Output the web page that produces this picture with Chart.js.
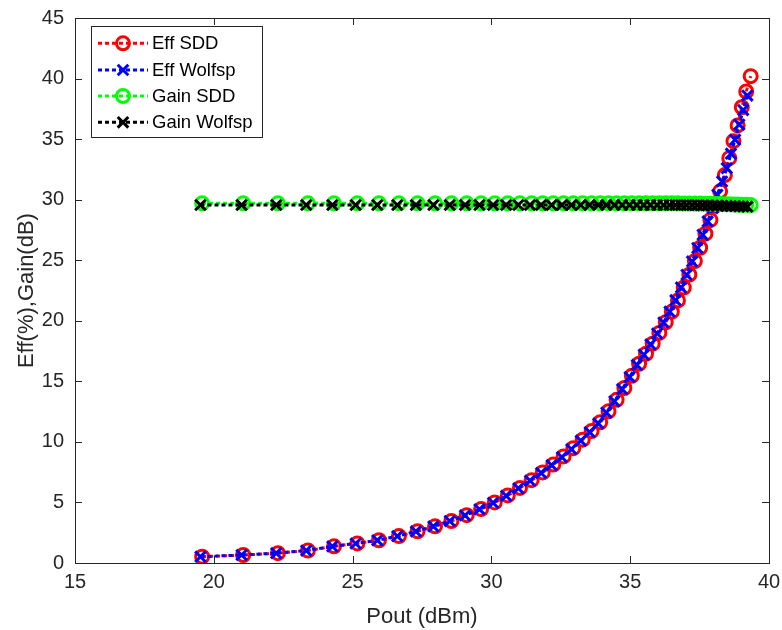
<!DOCTYPE html>
<html>
<head>
<meta charset="utf-8">
<script src="https://cdn.jsdelivr.net/npm/chart.js@4.4.1/dist/chart.umd.min.js"></script>
<style>
  body { margin: 0; background: #fff; }
  #wrap { width: 782px; height: 630px; position: relative; }
</style>
</head>
<body>
<div id="wrap"><canvas id="chart"></canvas></div>
<script>
// values
const poutSDD = [19.58, 21.06, 22.31, 23.39, 24.33, 25.17, 25.95, 26.67, 27.34, 27.97,
  28.56, 29.11, 29.63, 30.12, 30.59, 31.03, 31.45, 31.85, 32.23, 32.60,
  32.95, 33.29, 33.61, 33.92, 34.22, 34.51, 34.79, 35.06, 35.32, 35.57,
  35.81, 36.05, 36.28, 36.50, 36.72, 36.93, 37.13, 37.33, 37.52, 37.71,
  37.89, 38.07, 38.24, 38.41, 38.57, 38.72, 38.87, 39.02, 39.18, 39.34];
const effSDD = [0.52, 0.66, 0.81, 1.03, 1.38, 1.62, 1.88, 2.22, 2.62, 3.03,
  3.47, 3.95, 4.45, 5.00, 5.58, 6.20, 6.84, 7.48, 8.13, 8.80,
  9.48, 10.18, 10.89, 11.62, 12.52, 13.47, 14.45, 15.46, 16.45, 17.28,
  18.11, 19.00, 19.88, 20.75, 21.68, 22.74, 23.81, 24.93, 26.03, 27.19,
  28.33, 29.52, 30.69, 32.03, 33.43, 34.83, 36.13, 37.63, 38.93, 40.20];
const poutWolf = [19.52, 21.00, 22.25, 23.33, 24.27, 25.11, 25.89, 26.61, 27.28, 27.91,
  28.50, 29.05, 29.57, 30.06, 30.53, 30.97, 31.39, 31.79, 32.17, 32.54,
  32.88, 33.22, 33.54, 33.85, 34.14, 34.43, 34.71, 34.98, 35.24, 35.49,
  35.73, 35.97, 36.20, 36.42, 36.63, 36.83, 37.03, 37.23, 37.42, 37.61,
  37.79, 37.97, 38.14, 38.31, 38.48, 38.63, 38.78, 38.93, 39.07, 39.22];
const effWolf = [0.52, 0.66, 0.81, 1.03, 1.37, 1.61, 1.87, 2.21, 2.61, 3.02,
  3.46, 3.93, 4.43, 4.97, 5.55, 6.17, 6.80, 7.44, 8.08, 8.74,
  9.40, 10.10, 10.80, 11.52, 12.42, 13.35, 14.35, 15.35, 16.35, 17.20,
  18.05, 18.95, 19.85, 20.75, 21.70, 22.75, 23.80, 24.90, 26.00, 27.10,
  28.20, 29.30, 30.40, 31.50, 32.60, 33.80, 34.95, 36.20, 37.40, 38.60];
const gainSDD = [29.70, 29.70, 29.70, 29.70, 29.70, 29.70, 29.70, 29.70, 29.70, 29.70,
  29.70, 29.70, 29.70, 29.70, 29.70, 29.70, 29.70, 29.70, 29.70, 29.70,
  29.70, 29.70, 29.70, 29.70, 29.70, 29.70, 29.70, 29.70, 29.70, 29.70,
  29.70, 29.70, 29.70, 29.70, 29.70, 29.69, 29.69, 29.68, 29.68, 29.67,
  29.66, 29.65, 29.64, 29.63, 29.62, 29.61, 29.60, 29.58, 29.57, 29.55];
const gainWolf = [29.56, 29.56, 29.56, 29.56, 29.56, 29.56, 29.56, 29.56, 29.56, 29.56,
  29.56, 29.56, 29.56, 29.56, 29.56, 29.56, 29.56, 29.56, 29.56, 29.56,
  29.56, 29.56, 29.56, 29.56, 29.56, 29.56, 29.56, 29.56, 29.56, 29.56,
  29.56, 29.56, 29.56, 29.56, 29.56, 29.55, 29.55, 29.54, 29.54, 29.53,
  29.52, 29.51, 29.50, 29.49, 29.48, 29.47, 29.46, 29.45, 29.44, 29.42];
const xTicks = [15, 20, 25, 30, 35, 40];
const yTicks = [0, 5, 10, 15, 20, 25, 30, 35, 40, 45];
const seriesNames = ['Eff SDD', 'Eff Wolfsp', 'Gain SDD', 'Gain Wolfsp'];

const axisColor = '#262626';
const fontFamily = '"Liberation Sans", Arial, sans-serif';

function toXY(xs, ys) {
  return xs.map((x, i) => ({ x: x, y: ys[i] }));
}

function makeSet(name, xs, ys, color, marker, order) {
  return {
    label: name,
    data: toXY(xs, ys),
    showLine: true,
    borderColor: color,
    borderWidth: 3,
    borderDash: [4, 3],
    pointStyle: marker,
    pointRadius: marker === 'circle' ? 6.5 : 7.5,
    pointBorderWidth: 3,
    pointBorderColor: color,
    pointBackgroundColor: 'rgba(0,0,0,0)',
    order: order
  };
}

const sets = [
  makeSet(seriesNames[0], poutSDD, effSDD, '#ff0000', 'circle', 4),
  makeSet(seriesNames[1], poutWolf, effWolf, '#0000ff', 'crossRot', 3),
  makeSet(seriesNames[2], poutSDD, gainSDD, '#00ff00', 'circle', 2),
  makeSet(seriesNames[3], poutWolf, gainWolf, '#000000', 'crossRot', 1)
];

function drawMarker(ctx, style, color, x, y) {
  ctx.save();
  ctx.strokeStyle = color;
  ctx.lineWidth = 3;
  ctx.setLineDash([]);
  ctx.beginPath();
  if (style === 'circle') {
    ctx.arc(x, y, 6.5, 0, Math.PI * 2);
  } else {
    const d = 7.5 * Math.SQRT1_2;
    ctx.moveTo(x - d, y - d); ctx.lineTo(x + d, y + d);
    ctx.moveTo(x + d, y - d); ctx.lineTo(x - d, y + d);
  }
  ctx.stroke();
  ctx.restore();
}

// box, inward ticks, axis titles and the matlab-like legend
const framePlugin = {
  id: 'frame',
  afterDraw(chart) {
    const ctx = chart.ctx;
    const a = chart.chartArea;
    const xs = chart.scales.x, ys = chart.scales.y;
    const tl = 7;
    ctx.save();
    ctx.strokeStyle = axisColor;
    ctx.lineWidth = 1;
    ctx.setLineDash([]);
    ctx.strokeRect(Math.round(a.left) + 0.5, Math.round(a.top) + 0.5,
      Math.round(a.right - a.left), Math.round(a.bottom - a.top));
    ctx.beginPath();
    xTicks.forEach(v => {
      const px = Math.round(xs.getPixelForValue(v)) + 0.5;
      ctx.moveTo(px, a.bottom); ctx.lineTo(px, a.bottom - tl);
      ctx.moveTo(px, a.top); ctx.lineTo(px, a.top + tl);
    });
    yTicks.forEach(v => {
      const py = Math.round(ys.getPixelForValue(v)) + 0.5;
      ctx.moveTo(a.left, py); ctx.lineTo(a.left + tl, py);
      ctx.moveTo(a.right, py); ctx.lineTo(a.right - tl, py);
    });
    ctx.stroke();

    // axis titles
    ctx.fillStyle = axisColor;
    ctx.font = '22px ' + fontFamily;
    ctx.textAlign = 'center';
    ctx.textBaseline = 'middle';
    ctx.fillText('Pout (dBm)', (a.left + a.right) / 2, 617);
    ctx.save();
    ctx.translate(27, (a.top + a.bottom) / 2);
    ctx.rotate(-Math.PI / 2);
    ctx.fillText('Eff(%),Gain(dB)', 0, 0);
    ctx.restore();

    // legend
    const bx = 91.5, by = 26.5, bw = 171, bh = 111;
    ctx.fillStyle = '#ffffff';
    ctx.fillRect(bx, by, bw, bh);
    ctx.strokeStyle = axisColor;
    ctx.lineWidth = 1;
    ctx.strokeRect(bx, by, bw, bh);
    const rows = [43.3, 70, 96, 122.3];
    ctx.font = '18.5px ' + fontFamily;
    ctx.textAlign = 'left';
    sets.forEach((s, i) => {
      const y = rows[i];
      ctx.save();
      ctx.strokeStyle = s.borderColor;
      ctx.lineWidth = 3;
      ctx.setLineDash([4, 3]);
      ctx.beginPath();
      ctx.moveTo(98, y); ctx.lineTo(148, y);
      ctx.stroke();
      ctx.restore();
      drawMarker(ctx, s.pointStyle, s.borderColor, 123, y);
      ctx.fillStyle = '#000000';
      ctx.fillText(s.label, 152, y + 1);
    });
    ctx.restore();
  }
};

new Chart(document.getElementById('chart'), {
  type: 'scatter',
  data: { datasets: sets },
  options: {
    responsive: true,
    maintainAspectRatio: false,
    animation: false,
    layout: { padding: { left: 0, right: 13, top: 18, bottom: 0 } },
    plugins: {
      legend: { display: false },
      tooltip: { enabled: false }
    },
    scales: {
      x: {
        type: 'linear',
        min: 15, max: 40,
        // fixed size, no extra room for the end labels
        afterFit: s => { s.height = 67; s.paddingLeft = 0; s.paddingRight = 0; },
        afterBuildTicks: s => { s.ticks = xTicks.map(v => ({ value: v })); },
        grid: { display: false, drawTicks: false },
        border: { display: false },
        ticks: { padding: 7, color: axisColor, font: { family: fontFamily, size: 20 } }
      },
      y: {
        type: 'linear',
        min: 0, max: 45,
        afterFit: s => { s.width = 75; s.paddingTop = 0; s.paddingBottom = 0; },
        afterBuildTicks: s => { s.ticks = yTicks.map(v => ({ value: v })); },
        grid: { display: false, drawTicks: false },
        border: { display: false },
        ticks: { padding: 11, color: axisColor, font: { family: fontFamily, size: 20 } }
      }
    }
  },
  plugins: [framePlugin]
});
</script>
</body>
</html>
